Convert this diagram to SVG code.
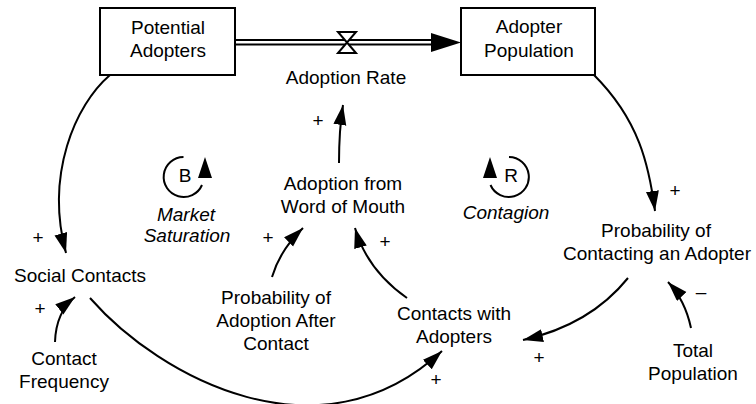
<svg xmlns="http://www.w3.org/2000/svg" width="756" height="404" viewBox="0 0 756 404">
<style>
text{font-family:"Liberation Sans",Arial,sans-serif;font-size:19px;fill:#000;text-anchor:middle}
.it{font-style:italic}
.box{fill:#fff;stroke:#000;stroke-width:2}
.link{fill:none;stroke:#000;stroke-width:2;marker-end:url(#ah)}
.loop{fill:none;stroke:#000;stroke-width:2}
.pipe{stroke:#000;stroke-width:1.8;fill:none}
</style>
<defs>
<marker id="ah" markerUnits="userSpaceOnUse" markerWidth="22" markerHeight="14" refX="20" refY="6.5" orient="auto">
<path d="M0,0 L20,6.5 L0,13 z" fill="#000"/>
</marker>
</defs>
<rect width="756" height="404" fill="#fff"/>
<g id="flow">
<line class="pipe" x1="235" y1="40" x2="432" y2="40"/>
<line class="pipe" x1="235" y1="44.5" x2="432" y2="44.5"/>
<path d="M431,33 L461,42.5 L431,52 z" fill="#000"/>
<path d="M338,32 L356,32 L338,53 L356,53 z" fill="#fff" stroke="#000" stroke-width="2" stroke-linejoin="miter"/>
</g>
<g id="potential-adopters">
<rect class="box" x="100" y="8" width="135" height="67"/>
<text x="168" y="34">Potential</text>
<text x="168" y="57">Adopters</text>
</g>
<g id="adopter-population">
<rect class="box" x="461" y="8" width="134" height="67"/>
<text x="529" y="33">Adopter</text>
<text x="529" y="57">Population</text>
</g>
<g id="adoption-rate"><text x="346" y="84">Adoption Rate</text></g>
<g id="adoption-wom"><text x="343" y="190">Adoption from</text><text x="343" y="213">Word of Mouth</text></g>
<g id="social-contacts"><text x="80" y="282">Social Contacts</text></g>
<g id="contact-frequency"><text x="64" y="365">Contact</text><text x="64" y="388">Frequency</text></g>
<g id="prob-adoption"><text x="276" y="304">Probability of</text><text x="276" y="327">Adoption After</text><text x="276" y="350">Contact</text></g>
<g id="contacts-adopters"><text x="454" y="320">Contacts with</text><text x="454" y="343">Adopters</text></g>
<g id="prob-contacting"><text x="656" y="237">Probability of</text><text x="657" y="260">Contacting an Adopter</text></g>
<g id="total-population"><text x="693" y="357">Total</text><text x="693" y="380">Population</text></g>
<g id="loop-b">
<path class="loop" d="M183.5,157 A20,20 0 1 0 202,185"/>
<path d="M198,178 L212,178 L205,157 z" fill="#000"/>
<text x="185" y="182">B</text>
<text class="it" x="186" y="221">Market</text>
<text class="it" x="187" y="242">Saturation</text>
</g>
<g id="loop-r">
<path class="loop" d="M509,157 A20,20 0 1 1 490.5,185"/>
<path d="M483,178 L497,178 L490,157 z" fill="#000"/>
<text x="511" y="182">R</text>
<text class="it" x="506" y="219">Contagion</text>
</g>
<g id="connectors">
<path class="link" d="M110,75 C75,105 45,175 66,253"/>
<path class="link" d="M594,75 C639,120 649,165 655,211"/>
<path class="link" d="M339,163 Q339,130 343,105"/>
<path class="link" d="M272,277 Q280,250 303,228"/>
<path class="link" d="M407,298 Q367,270 355,228"/>
<path class="link" d="M90,298 C160,378 320,464 442,351"/>
<path class="link" d="M55,342 Q56,312 75,297"/>
<path class="link" d="M628,278 Q590,325 523,340"/>
<path class="link" d="M691,328 Q685,300 668,282"/>
<text x="38" y="244">+</text>
<text x="318" y="127">+</text>
<text x="268" y="244">+</text>
<text x="385" y="248">+</text>
<text x="675" y="197">+</text>
<text x="40" y="315">+</text>
<text x="436" y="386">+</text>
<text x="539" y="364">+</text>
<text x="701" y="298">–</text>
</g>
</svg>
